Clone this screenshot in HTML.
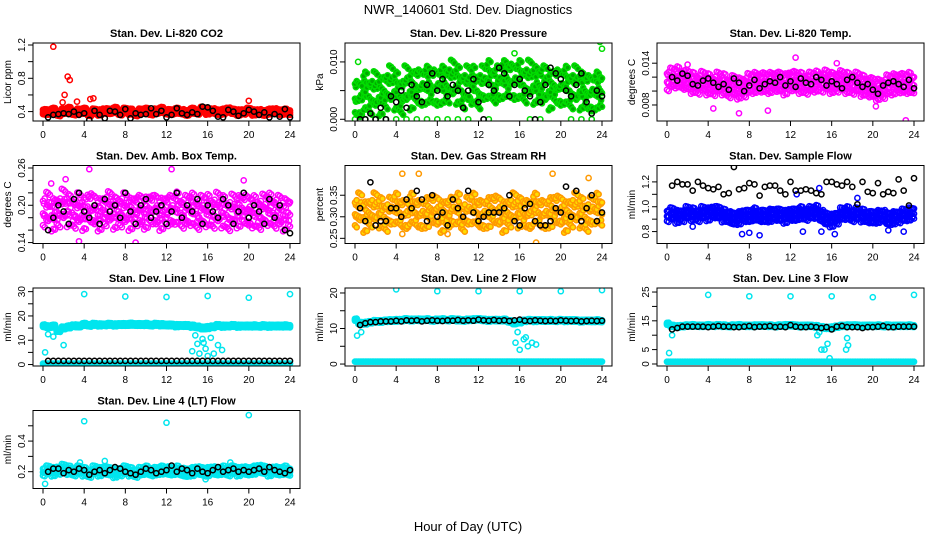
<!DOCTYPE html>
<html><head><meta charset="utf-8"><style>
html,body{margin:0;padding:0;background:#fff;}
svg{display:block;font-family:"Liberation Sans",sans-serif;}
</style></head><body>
<svg id="chart" width="936" height="540" viewBox="0 0 936 540">
<text x="468" y="14" text-anchor="middle" font-size="13">NWR_140601  Std. Dev. Diagnostics</text>
<text x="468" y="531" text-anchor="middle" font-size="13">Hour of Day (UTC)</text>
</svg>
<script>
const xTicks=[0,4,8,12,16,20,24];
const co2Main=[0.40,0.39,0.41,0.38,0.40,0.42,0.39,0.40,0.41,0.38,0.40,0.39,0.41,0.40,0.42,0.39,0.41,0.40,0.38,0.40,0.41,0.39,0.40,0.42,0.40,0.39,0.41,0.40,0.38,0.41,0.40,0.42,0.40,0.41,0.39,0.40,0.42,0.40,0.39,0.40,0.41,0.39,0.40,0.38,0.40,0.41,0.39,0.40,0.39];
const co2Black=[0.33,0.36,0.37,0.38,0.37,0.40,0.36,0.38,0.30,0.41,0.36,0.32,0.41,0.40,0.36,0.43,0.32,0.38,0.36,0.37,0.44,0.37,0.41,0.33,0.36,0.44,0.38,0.36,0.39,0.37,0.46,0.45,0.41,0.34,0.33,0.42,0.40,0.35,0.38,0.42,0.40,0.36,0.39,0.33,0.37,0.34,0.43,0.33];
const co2OutT=[1.0,2.4,2.6,2.1,4.9,4.6,20.0,1.9,3.3];
const co2OutV=[1.18,0.82,0.78,0.60,0.56,0.55,0.53,0.51,0.52];

const presMain=[0.004,0.003,0.005,0.004,0.005,0.004,0.005,0.006,0.005,0.004,0.006,0.005,0.006,0.005,0.006,0.006,0.005,0.006,0.006,0.007,0.006,0.005,0.006,0.006,0.005,0.006,0.007,0.006,0.006,0.007,0.007,0.006,0.007,0.006,0.007,0.006,0.006,0.006,0.005,0.006,0.005,0.006,0.005,0.006,0.005,0.005,0.004,0.005,0.005];
const presBlack=[0,0,0.001,0,0.002,0,0.004,0.003,0.005,0.002,0.006,0.004,0.003,0.006,0.008,0.005,0.007,0.004,0.006,0.005,0.002,0.005,0.007,0.003,0,0.006,0.005,0.009,0.008,0.004,0.006,0.007,0.005,0.004,0,0.003,0.006,0.009,0.008,0.007,0.005,0.004,0.006,0.008,0.003,0.001,0.005,0.004];
const presOutT=[0,1,2,3,4,5,6,7,8,9,10,11,13,17,18,21,22,23,23.8,0.3,15.5,24];
const presOutV=[0,0,0,0,0,0,0,0,0,0,0,0,0,0,0,0,0,0,0.0135,0.010,0.0115,0.0123];

const tempMain=[0.0115,0.0118,0.0120,0.0117,0.0115,0.0112,0.0110,0.0113,0.0110,0.0108,0.0112,0.0110,0.0105,0.0107,0.0104,0.0106,0.0110,0.0112,0.0113,0.0111,0.0112,0.0114,0.0112,0.0110,0.0115,0.0113,0.0112,0.0110,0.0112,0.0114,0.0113,0.0115,0.0112,0.0113,0.0114,0.0112,0.0110,0.0112,0.0108,0.0106,0.0104,0.0102,0.0104,0.0108,0.0110,0.0112,0.0110,0.0112,0.0110];
const tempBlack=[0.0120,0.0115,0.0125,0.0122,0.0110,0.0108,0.0115,0.0118,0.0112,0.0106,0.0110,0.0102,0.0118,0.0112,0.0100,0.0108,0.0116,0.0104,0.0110,0.0114,0.0112,0.0120,0.0108,0.0114,0.0106,0.0118,0.0112,0.0110,0.0120,0.0116,0.0108,0.0114,0.0110,0.0104,0.0116,0.0120,0.0112,0.0106,0.0110,0.0102,0.0096,0.0108,0.0112,0.0114,0.0110,0.0106,0.0116,0.0104];
const tempOutT=[12.5,23.2,7.0,4.5,9.8,20.3,2.0,16.5];
const tempOutV=[0.0148,0.0058,0.0068,0.0075,0.0072,0.0078,0.0138,0.0140];

const ambMain=[0.190,0.195,0.185,0.190,0.200,0.192,0.188,0.194,0.186,0.198,0.190,0.185,0.192,0.196,0.188,0.190,0.194,0.186,0.192,0.190,0.188,0.195,0.190,0.186,0.192,0.190,0.196,0.188,0.190,0.194,0.186,0.190,0.192,0.188,0.195,0.190,0.184,0.192,0.190,0.196,0.188,0.190,0.186,0.192,0.194,0.188,0.190,0.185,0.188];
const ambBlack=[0.16,0.18,0.20,0.19,0.17,0.21,0.22,0.19,0.18,0.20,0.17,0.21,0.19,0.20,0.18,0.22,0.19,0.17,0.20,0.21,0.18,0.19,0.20,0.17,0.19,0.22,0.18,0.20,0.19,0.21,0.17,0.20,0.19,0.18,0.21,0.20,0.17,0.19,0.22,0.18,0.20,0.19,0.17,0.21,0.18,0.20,0.16,0.155];
const ambOutT=[4.5,12.5,3.5,0.8,19.5,2.2,9.0];
const ambOutV=[0.258,0.258,0.142,0.235,0.240,0.242,0.140];

const rhMain=[0.31,0.32,0.30,0.31,0.32,0.31,0.30,0.31,0.32,0.31,0.30,0.32,0.31,0.30,0.31,0.32,0.31,0.30,0.31,0.31,0.32,0.30,0.31,0.32,0.31,0.30,0.31,0.32,0.31,0.30,0.31,0.32,0.31,0.31,0.30,0.32,0.31,0.30,0.31,0.32,0.31,0.30,0.31,0.32,0.31,0.30,0.31,0.32,0.31];
const rhBlack=[0.32,0.29,0.38,0.28,0.29,0.29,0.32,0.32,0.30,0.34,0.32,0.36,0.34,0.29,0.35,0.30,0.31,0.28,0.34,0.32,0.30,0.36,0.31,0.29,0.30,0.31,0.31,0.31,0.32,0.35,0.29,0.28,0.32,0.33,0.29,0.28,0.28,0.29,0.32,0.31,0.37,0.30,0.36,0.29,0.32,0.35,0.29,0.31];
const rhOutT=[4.6,6.2,17.6,22.7,9.0,4.6,19.2];
const rhOutV=[0.40,0.40,0.24,0.39,0.26,0.26,0.40];

const flowMain=[0.93,0.94,0.92,0.93,0.95,0.94,0.93,0.95,0.94,0.96,0.95,0.93,0.92,0.90,0.91,0.93,0.92,0.94,0.93,0.92,0.93,0.94,0.93,0.92,0.94,0.93,0.95,0.94,0.95,0.96,0.93,0.90,0.89,0.91,0.94,0.95,0.93,0.94,0.93,0.92,0.91,0.92,0.93,0.90,0.91,0.92,0.93,0.94,0.95];
const flowBlack=[1.17,1.20,1.18,1.18,1.13,1.20,1.17,1.15,1.14,1.16,1.10,1.11,1.32,1.14,1.15,1.19,1.18,1.09,1.16,1.17,1.17,1.13,1.10,1.20,1.13,1.13,1.14,1.13,1.11,1.10,1.20,1.20,1.18,1.17,1.20,1.16,1.02,1.20,1.12,1.11,1.19,1.10,1.12,1.11,1.22,1.13,1.01,1.23];
const flowOutT=[7.3,8.0,9.0,13.2,15.0,16.3,21.5,23.0,2.5,18.5,12.6,14.8];
const flowOutV=[0.78,0.79,0.77,0.80,0.80,0.78,0.81,0.80,0.84,1.07,1.10,1.15];

const l1Main=[16,15.5,15.8,14,15,15.5,16,15.8,16.5,16.2,16.5,16.3,16.4,16.5,16.3,16.5,16.4,16.6,16.5,16.4,16.5,16.3,16.5,16.4,16.3,16.2,16.0,16.1,16.0,15.8,15.5,15.0,15.2,15.6,16.0,15.8,15.9,16.0,15.8,15.9,15.8,15.9,15.8,15.9,15.8,15.9,15.8,15.9,15.8];
const l1Low=[0.4,0.4,0.4,0.4,0.4,0.4,0.4,0.4,0.4,0.4,0.4,0.4,0.4,0.4,0.4,0.4,0.4,0.4,0.4,0.4,0.4,0.4,0.4,0.4,0.4,0.4,0.4,0.4,0.4,0.4,0.4,0.4,0.4,0.4,0.4,0.4,0.4,0.4,0.4,0.4,0.4,0.4,0.4,0.4,0.4,0.4,0.4,0.4,0.4];
const l1Black=[1.5,1.5,1.5,1.5,1.5,1.5,1.5,1.5,1.5,1.5,1.5,1.5,1.5,1.5,1.5,1.5,1.5,1.5,1.5,1.5,1.5,1.5,1.5,1.5,1.5,1.5,1.5,1.5,1.5,1.5,1.5,1.5,1.5,1.5,1.5,1.5,1.5,1.5,1.5,1.5,1.5,1.5,1.5,1.5,1.5,1.5,1.5,1.5];
const l1OutT=[4,8,12,16,20,24,0.2,2.0,0.5,1.0,14.5,14.8,15.2,15.5,15.8,16.0,16.3,16.6,17.0,17.4,15.0,15.6];
const l1OutV=[29,28,27.8,28.2,27.5,29,5,8,12.5,11.5,5.5,12,4.5,10.5,6.5,3.5,11,4.5,8,6,8.5,9];

const l2Main=[12.5,11.5,11.5,11.8,12.0,12.0,12.2,12.2,12.3,12.4,12.5,12.4,12.5,12.4,12.5,12.3,12.4,12.5,12.4,12.5,12.4,12.3,12.4,12.5,12.6,12.4,12.3,12.4,12.3,12.4,12.0,11.5,11.8,12.2,12.3,12.2,12.3,12.2,12.3,12.2,12.3,12.2,12.3,12.2,12.1,12.2,12.1,12.2,12.1];
const l2Low=[0.7,0.7,0.7,0.7,0.7,0.7,0.7,0.7,0.7,0.7,0.7,0.7,0.7,0.7,0.7,0.7,0.7,0.7,0.7,0.7,0.7,0.7,0.7,0.7,0.7,0.7,0.7,0.7,0.7,0.7,0.7,0.7,0.7,0.7,0.7,0.7,0.7,0.7,0.7,0.7,0.7,0.7,0.7,0.7,0.7,0.7,0.7,0.7,0.7];
const l2Black=[11.0,11.5,11.8,11.8,12.0,12.0,12.0,12.2,12.0,12.3,12.2,12.3,12.0,12.2,12.3,12.2,12.1,12.3,12.2,12.4,12.2,12.3,12.2,12.5,12.3,12.2,12.4,12.2,12.3,12.1,12.3,12.5,12.2,12.1,12.3,12.2,12.1,12.2,12.1,12.3,12.2,12.1,12.2,12.0,12.1,12.2,12.1,12.2];
const l2OutT=[4,8,12,16,20,24,0.2,0.6,15.6,16.0,16.4,16.8,17.2,17.6,15.8,16.6];
const l2OutV=[21,20.5,20.5,20.5,20.5,20.8,8,9,6,4,7,5,6,5.5,9,7.5];

const l3Main=[14,13.2,13.0,13.2,13.3,13.4,13.3,13.2,13.4,13.3,13.4,13.3,13.2,13.3,13.4,13.3,13.2,13.3,13.4,13.3,13.3,13.2,13.3,13.4,13.5,13.3,13.2,13.3,13.2,13.1,12.8,12.5,12.6,13.0,13.2,13.3,13.4,13.3,13.2,13.3,13.2,13.3,13.2,13.3,13.2,13.3,13.2,13.3,13.2];
const l3Low=[0.8,0.8,0.8,0.8,0.8,0.8,0.8,0.8,0.8,0.8,0.8,0.8,0.8,0.8,0.8,0.8,0.8,0.8,0.8,0.8,0.8,0.8,0.8,0.8,0.8,0.8,0.8,0.8,0.8,0.8,0.8,0.8,0.8,0.8,0.8,0.8,0.8,0.8,0.8,0.8,0.8,0.8,0.8,0.8,0.8,0.8,0.8,0.8,0.8];
const l3Black=[12.0,12.5,13.0,13.0,13.0,13.0,13.0,12.8,13.0,13.2,13.0,13.0,12.8,12.8,13.0,13.2,12.8,13.0,13.0,13.2,12.8,13.0,12.8,13.5,13.0,12.8,12.8,13.0,12.8,12.5,12.8,12.0,13.0,13.2,12.8,12.8,12.8,12.5,12.8,12.8,13.0,13.2,12.8,12.8,13.0,13.0,13.0,13.0];
const l3OutT=[4,8,12,16,20,24,0.2,0.5,14.6,15.0,15.3,15.6,17.4,17.6,15.8,14.8,17.5];
const l3OutV=[24,23.5,23.5,23.5,23.2,24,3.8,10,10,5,5,7,5,6.5,2,11,9];

const l4Main=[0.20,0.21,0.20,0.21,0.22,0.21,0.20,0.21,0.20,0.19,0.21,0.20,0.21,0.20,0.19,0.20,0.21,0.20,0.19,0.20,0.21,0.20,0.20,0.21,0.21,0.20,0.21,0.20,0.19,0.20,0.21,0.20,0.20,0.21,0.20,0.21,0.20,0.21,0.20,0.21,0.20,0.21,0.22,0.21,0.20,0.21,0.20,0.21,0.20];
const l4Black=[0.20,0.22,0.22,0.19,0.21,0.20,0.22,0.21,0.18,0.20,0.21,0.19,0.21,0.23,0.22,0.20,0.19,0.18,0.20,0.22,0.21,0.19,0.20,0.21,0.24,0.20,0.22,0.21,0.19,0.22,0.20,0.19,0.21,0.23,0.20,0.21,0.22,0.20,0.21,0.20,0.21,0.22,0.20,0.23,0.21,0.20,0.19,0.21];
const l4OutT=[4,12,20,0.2,3.6,6.0,15.8,18.2];
const l4OutV=[0.53,0.52,0.57,0.12,0.26,0.27,0.15,0.26];

const NS="http://www.w3.org/2000/svg";
const svg=document.getElementById('chart');
function mk(tag,attrs,parent){const e=document.createElementNS(NS,tag);for(const k in attrs)e.setAttribute(k,attrs[k]);(parent||svg).appendChild(e);return e;}

const panels=[
 {title:"Stan. Dev. Li-820 CO2",yl:"Licor ppm",c:0,r:0,ymin:0.287,ymax:1.224,ticks:[0.4,0.6,0.8,1.0,1.2],labs:["0.4","","0.8","","1.2"],main:co2Main,sp:0.03,black:co2Black,ot:co2OutT,ov:co2OutV,col:"#ff0000",fill:"#ff0000"},
 {title:"Stan. Dev. Li-820 Pressure",yl:"kPa",c:1,r:0,ymin:-0.0003,ymax:0.0133,ticks:[0,0.005,0.01],labs:["0.000","","0.010"],main:presMain,sp:0.0028,black:presBlack,ot:presOutT,ov:presOutV,col:"#00dd00",fill:"#00aa00"},
 {title:"Stan. Dev. Li-820 Temp.",yl:"degrees C",c:2,r:0,ymin:0.0057,ymax:0.0169,ticks:[0.008,0.010,0.012,0.014],labs:["0.008","","","0.014"],main:tempMain,sp:0.0013,black:tempBlack,ot:tempOutT,ov:tempOutV,col:"#ff00ff",fill:"none"},
 {title:"Stan. Dev. Amb. Box Temp.",yl:"degrees C",c:0,r:1,ymin:0.1385,ymax:0.264,ticks:[0.14,0.16,0.18,0.20,0.22,0.24,0.26],labs:["0.14","","","0.20","","","0.26"],main:ambMain,sp:0.022,black:ambBlack,ot:ambOutT,ov:ambOutV,col:"#ff00ff",fill:"none"},
 {title:"Stan. Dev. Gas Stream RH",yl:"percent",c:1,r:1,ymin:0.238,ymax:0.419,ticks:[0.25,0.30,0.35],labs:["0.25","0.30","0.35"],main:rhMain,sp:0.03,black:rhBlack,ot:rhOutT,ov:rhOutV,col:"#ff9900",fill:"#ffdd00"},
 {title:"Stan. Dev. Sample Flow",yl:"ml/min",c:2,r:1,ymin:0.704,ymax:1.332,ticks:[0.8,0.9,1.0,1.1,1.2],labs:["0.8","","1.0","","1.2"],main:flowMain,sp:0.045,black:flowBlack,ot:flowOutT,ov:flowOutV,col:"#0000ff",fill:"none"},
 {title:"Stan. Dev. Line 1 Flow",yl:"ml/min",c:0,r:2,ymin:-0.6,ymax:31.5,ticks:[0,5,10,15,20,25,30],labs:["0","","10","","20","","30"],main:l1Main,low:l1Low,sp:0.5,black:l1Black,ot:l1OutT,ov:l1OutV,col:"#00e5ee",fill:"#00e5ee"},
 {title:"Stan. Dev. Line 2 Flow",yl:"ml/min",c:1,r:2,ymin:-0.55,ymax:21.4,ticks:[0,5,10,15,20],labs:["0","","10","","20"],main:l2Main,low:l2Low,sp:0.3,black:l2Black,ot:l2OutT,ov:l2OutV,col:"#00e5ee",fill:"#00e5ee"},
 {title:"Stan. Dev. Line 3 Flow",yl:"ml/min",c:2,r:2,ymin:-0.7,ymax:26.4,ticks:[0,5,10,15,20,25],labs:["0","5","","15","","25"],main:l3Main,low:l3Low,sp:0.35,black:l3Black,ot:l3OutT,ov:l3OutV,col:"#00e5ee",fill:"#00e5ee"},
 {title:"Stan. Dev. Line 4 (LT) Flow",yl:"ml/min",c:0,r:3,ymin:0.09,ymax:0.6,ticks:[0.2,0.3,0.4,0.5],labs:["0.2","","0.4",""],main:l4Main,sp:0.025,black:l4Black,ot:l4OutT,ov:l4OutV,col:"#00e5ee",fill:"none"}
];
const tops=[43,165.5,288,410.5];
const jit=[0,0.35,-0.3,0.15,-0.45,0.4,-0.1,0.25,-0.2];

panels.forEach((p,pi)=>{
  const L=33+312*p.c, T=tops[p.r], W=267, H=78;
  const g=mk('g',{});
  
  
  const xs=t=>L+10+t/24*247;
  const ys=v=>T+H-(v-p.ymin)/(p.ymax-p.ymin)*H;
  const clip=mk('clipPath',{id:'cp'+pi},g);
  mk('rect',{x:L,y:T,width:W,height:H},clip);
  const pts=mk('g',{'clip-path':'url(#cp'+pi+')'},g);
  const circ=(t,v,col,fill,nm)=>{const e=mk('circle',{cx:xs(t).toFixed(1),cy:ys(v).toFixed(1),r:2.6,fill:fill,stroke:col,'stroke-width':1.5},pts);
    
    };
  p.main.forEach((v,i)=>{
    const t=i*0.5;
    for(let k=-2;k<=2;k++){
      const dx=(k%2===0)?[-0.17,0,0.17]:[-0.09,0.09];
      dx.forEach((d,j)=>{ if(t+d<0||t+d>24)return;
        const jj=jit[(i*3+j*2+k+9)%jit.length];
        circ(t+d,v+(k+jj)*p.sp/2,p.col,p.fill,'series-point'); });
    }
  });
  if(p.low){p.low.forEach((v,i)=>{const t=i*0.5;[-0.17,0,0.17].forEach(d=>{if(t+d<0||t+d>24)return;circ(t+d,v,p.col,p.fill,'low-series-point');});});}
  p.ot.forEach((t,i)=>circ(t,p.ov[i],p.col,'none','outlier-point'));
  p.black.forEach((v,i)=>circ(0.5+i*0.5,v,'#000','none','hourly-mean-point'));
  const b=mk('rect',{x:L,y:T,width:W,height:H,fill:'none',stroke:'#000','stroke-width':1},g);
  
  
  const tt=mk('text',{x:L+W/2,y:T-6,'text-anchor':'middle','font-size':11,'font-weight':'bold'},g);
  tt.textContent=p.title;
  
  
  xTicks.forEach(t=>{
    mk('line',{x1:xs(t),x2:xs(t),y1:T+H,y2:T+H+5,stroke:'#000'},g);
    const lt=mk('text',{x:xs(t),y:T+H+17,'text-anchor':'middle','font-size':10},g);
    lt.textContent=t;
    
    
  });
  p.ticks.forEach((v,i)=>{
    const y=ys(v);
    mk('line',{x1:L-5,x2:L,y1:y,y2:y,stroke:'#000'},g);
    if(p.labs[i]){
      const lt=mk('text',{x:L-8,y:y,'text-anchor':'middle','font-size':10,transform:'rotate(-90 '+(L-8)+' '+y+')'},g);
      lt.textContent=p.labs[i];
      
      
    }
  });
  const cy=T+H/2;
  const yt=mk('text',{x:L-22,y:cy,'text-anchor':'middle','font-size':10,transform:'rotate(-90 '+(L-22)+' '+cy+')'},g);
  yt.textContent=p.yl;
  
  
});
</script>
</body></html>
